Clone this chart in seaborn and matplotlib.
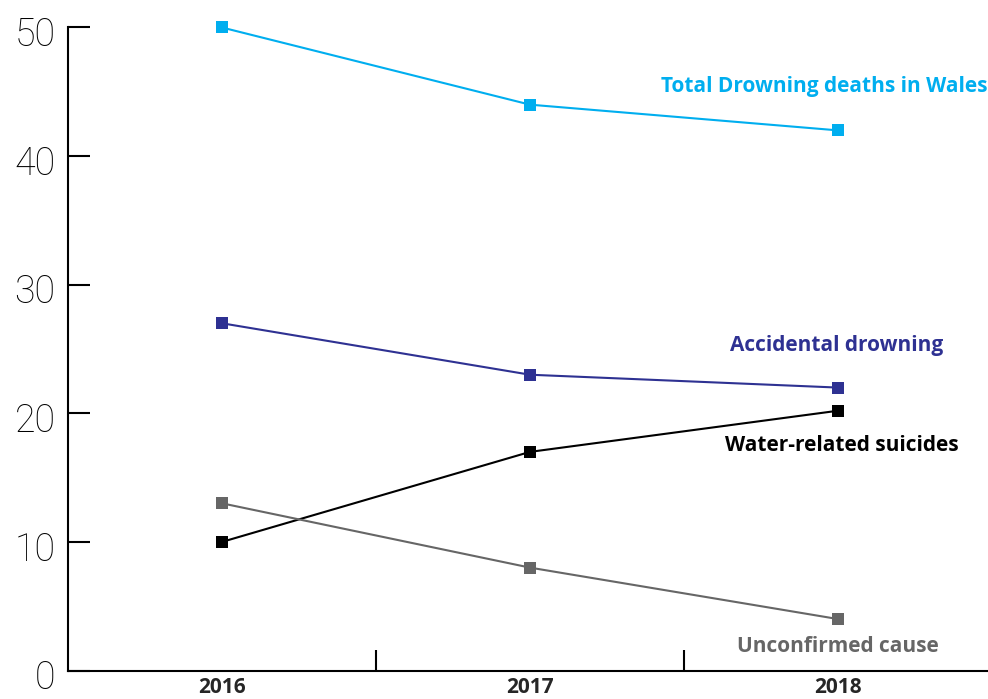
import matplotlib
matplotlib.use("Agg")
import matplotlib.pyplot as plt
import seaborn as sns
from matplotlib.transforms import ScaledTranslation

# Datos
years = ["2016", "2017", "2018"]
total = [50, 44, 42]
accidental = [27, 23, 22]
suicides = [10, 17, 20.2]
unconfirmed = [13, 8, 4]

series_names = ["Total Drowning deaths in Wales", "Accidental drowning",
                "Water-related suicides", "Unconfirmed cause"]
series_vals = [total, accidental, suicides, unconfirmed]
series_cols = ["#00aeef", "#2e3192", "#000000", "#666666"]
# posicion de las etiquetas (x en indice de categoria, y en datos)
label_pos = [(1.425, 45.45), (1.649, 25.3), (1.633, 17.5), (1.672, 1.9)]

sns.set_style("white")
plt.rcParams['font.family'] = ['Open Sans', 'DejaVu Sans']

fig = plt.figure(figsize=(9.88, 6.99), dpi=100)
ax = fig.add_axes([68 / 988, 1 - 670.5 / 699, 1 - 68 / 988, 670.5 / 699])

xs = list(range(len(years)))
for name, vals, col in zip(series_names, series_vals, series_cols):
    sns.lineplot(x=xs, y=vals, color=col, lw=1.5, marker="s", markersize=9,
                 markeredgewidth=0, ax=ax, clip_on=False)

for name, col, (lx, ly) in zip(series_names, series_cols, label_pos):
    ax.text(lx, ly, name, color=col, fontsize=15, fontweight="bold",
            va="center", ha="left", clip_on=True)

ax.set_xlim(-0.5, -0.5 + 920 / 308)
ax.set_ylim(0, 670.5 / 12.86)

# ejes
for s in ["top", "right"]:
    ax.spines[s].set_visible(False)
ax.spines["left"].set_bounds(0, 50)
for s in ["left", "bottom"]:
    ax.spines[s].set_linewidth(1.5)
    ax.spines[s].set_color("black")

ax.set_yticks([0, 10, 20, 30, 40, 50])
ax.tick_params(axis="y", left=True, direction="in", length=16, width=1.5,
               color="black", labelsize=27, pad=9)
for t in ax.get_yticklabels():
    t.set_family(["Roboto", "DejaVu Sans"])
    t.set_fontweight("light")
    t.set_color("#000000")
    t.set_transform(t.get_transform() + ScaledTranslation(0, -0.04, fig.dpi_scale_trans))

ax.set_xticks([0.5, 1.5])
ax.set_xticklabels([])
ax.set_xticks(xs, minor=True)
ax.set_xticklabels(years, minor=True, fontsize=15, fontweight="bold")
ax.tick_params(axis="x", which="major", bottom=True, direction="in", length=15,
               width=1.5, color="black")
ax.tick_params(axis="x", which="minor", bottom=True, length=0, pad=5)

ax.set_xlabel("")
ax.set_ylabel("")
ax.grid(False)

fig.savefig("out.png", dpi=100)
